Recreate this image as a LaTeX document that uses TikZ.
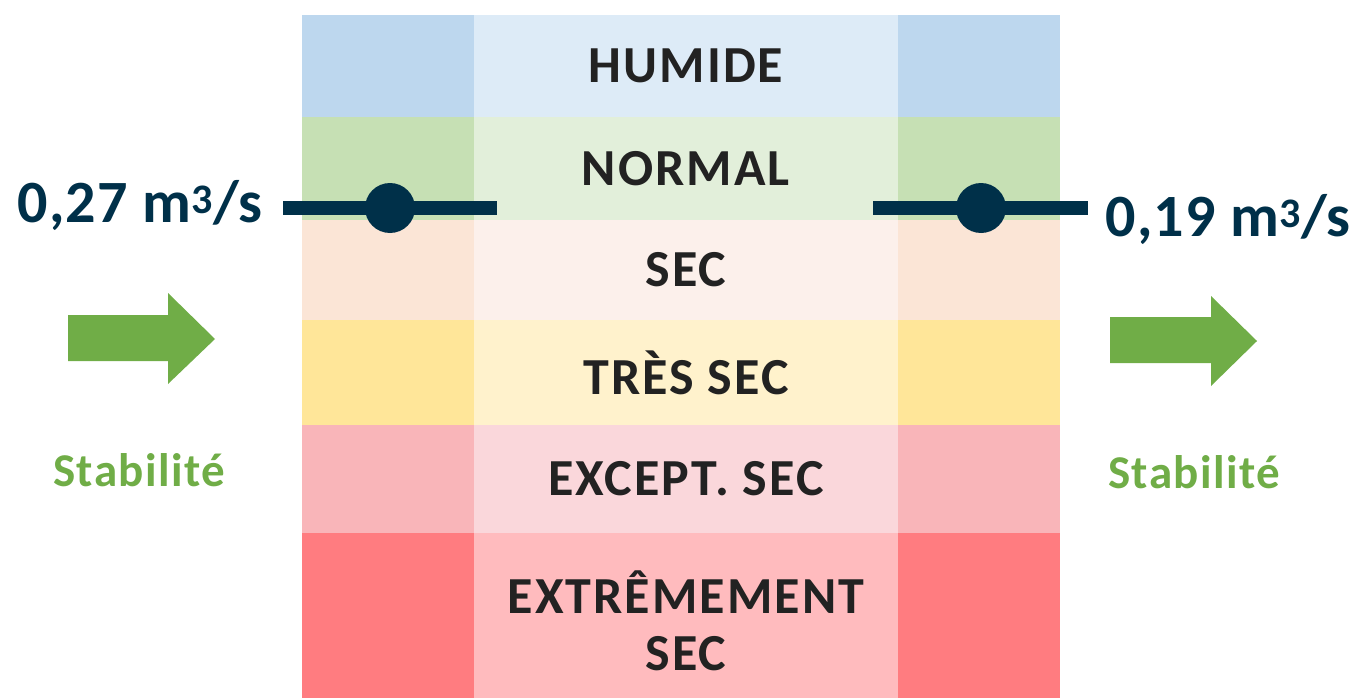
\documentclass[tikz,border=0pt]{standalone}
\usepackage{fontspec}
\setmainfont{Carlito}
\definecolor{navy}{HTML}{003049}
\definecolor{vert}{HTML}{70AD47}
\definecolor{encre}{HTML}{222222}
\definecolor{humA}{HTML}{BDD7EE}\definecolor{humB}{HTML}{DDEBF7}
\definecolor{norA}{HTML}{C6E0B4}\definecolor{norB}{HTML}{E2EFDA}
\definecolor{secA}{HTML}{FBE5D6}\definecolor{secB}{HTML}{FCF0EB}
\definecolor{tsA}{HTML}{FFE699}\definecolor{tsB}{HTML}{FFF2CC}
\definecolor{exA}{HTML}{F9B5B9}\definecolor{exB}{HTML}{FAD7DB}
\definecolor{xtA}{HTML}{FF7C80}\definecolor{xtB}{HTML}{FFBBBE}
\begin{document}
\begin{tikzpicture}[x=1pt, y=-1pt, line cap=butt, line join=miter]
	\tikzset{niveau/.style={font=\fontsize{52}{57}\selectfont\bfseries\addfontfeature{LetterSpace=4}, text=encre, align=center},
		debit/.style={font=\fontsize{60}{64}\selectfont\bfseries\addfontfeature{LetterSpace=2}, text=navy},
		stab/.style={font=\fontsize{47}{50}\selectfont\bfseries\addfontfeature{LetterSpace=3}, text=vert},
		repere/.style={circle, fill=navy, minimum size=50pt, inner sep=0pt},
		fleche/.style={fill=vert}}
	\useasboundingbox (0,0) rectangle (1357,698);
	% bandes
	\foreach \ya/\yb/\ca/\cb/\nom in {15/117/humA/humB/hum, 117/220/norA/norB/nor, 220/320/secA/secB/sec, 320/425/tsA/tsB/ts, 425/533/exA/exB/ex, 533/698/xtA/xtB/xt}{
		\fill[\ca] (302,\ya) rectangle (474,\yb);
		\fill[\cb] (474,\ya) rectangle (898,\yb);
		\fill[\ca] (898,\ya) rectangle (1060,\yb);
		\coordinate (\nom) at (686,{(\ya+\yb)/2});
	}
	\node[niveau] (lhum) at (hum) {HUMIDE};
	\node[niveau] (lnor) at (nor) {NORMAL};
	\node[niveau] (lsec) at (sec) {SEC};
	\node[niveau] (lts) at (ts) {TRÈS SEC};
	\node[niveau] (lex) at (ex) {EXCEPT. SEC};
	\node[niveau] (lxt) at ([yshift=-5pt]xt) {EXTRÊMEMENT\\SEC};
	% niveaux
	\coordinate (ga) at (283,208); \coordinate (gb) at (497,208);
	\coordinate (da) at (873,208); \coordinate (db) at (1088,208);
	\draw[navy, line width=14pt] (ga) -- (gb);
	\draw[navy, line width=14pt] (da) -- (db);
	\node[repere] (pg) at (390,208) {};
	\node[repere] (pd) at (981,208) {};
	\node[debit, anchor=east] (vg) at (266,206) {0,27 m\textsuperscript{3}/s};
	\node[debit, anchor=west] (vd) at (1102,220) {0,19 m\textsuperscript{3}/s};
	% tendances
	\fill[fleche] (68,315) -- (168,315) -- (168,293) -- (215,339) -- (168,384) -- (168,361) -- (68,361) -- cycle;
	\fill[fleche] (1110,317) -- (1211,317) -- (1211,296) -- (1257,341) -- (1211,386) -- (1211,363) -- (1110,363) -- cycle;
	\node[stab] (sg) at (139,470) {Stabilité};
	\node[stab] (sd) at (1194,472) {Stabilité};
\end{tikzpicture}
\end{document}
